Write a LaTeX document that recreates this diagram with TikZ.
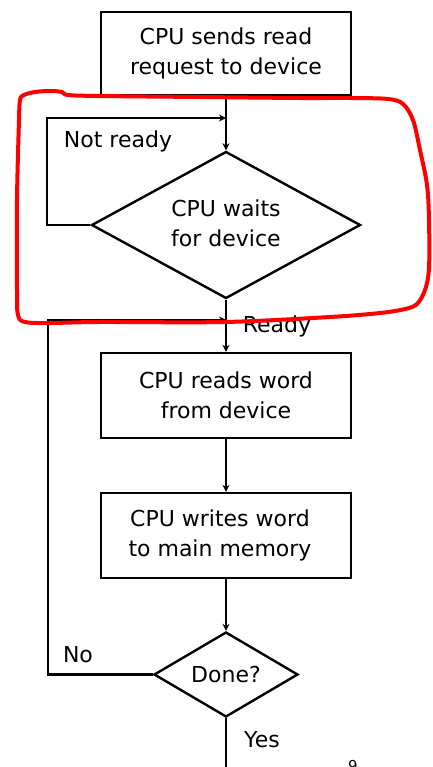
\documentclass[tikz,border=0pt]{standalone}
\usepackage{fontspec}
\setmainfont{DejaVu Sans}
\usetikzlibrary{shapes.geometric,arrows.meta}
\begin{document}
\begin{tikzpicture}[x=1pt,y=-1pt,
  every node/.style={font=\fontsize{22}{30}\selectfont},
  box/.style={draw,line width=2.4pt,minimum width=250pt,minimum height=85pt,align=center,inner sep=0pt},
  dec/.style={draw,diamond,line width=2.4pt,inner sep=0pt,align=center},
  arr/.style={line width=2.2pt,-{Stealth[length=7pt,width=7pt]}},
  lbl/.style={inner sep=0pt,anchor=base}
]
\useasboundingbox (0,0) rectangle (432,767);

\node[box,minimum height=83pt] (b1) at (226,53.5) {CPU sends read\\request to device};
\node[dec,minimum width=269pt,minimum height=147pt,aspect=1.83] (d1) at (226,225) {CPU waits\\for device\rule[-3pt]{0pt}{3pt}};
\node[box] (b2) at (226,395.5) {CPU reads word\\from device};
\node[box] (b3) at (226,535.5) {CPU writes word\hspace*{12pt}\\to main memory\hspace*{12pt}};
\node[dec,minimum width=144pt,minimum height=85pt,aspect=1.7] (d2) at (226,674.5) {Done?};

\coordinate (j1) at (226,118);
\coordinate (j2) at (226,320);
\coordinate (e) at (226,775);

\draw[arr] (b1) -- (d1);
\draw[arr] (d1.west) -- ++(-43,0) |- (j1);
\draw[arr] (d1) -- (b2);
\draw[arr] (b2) -- (b3);
\draw[arr] (b3) -- (d2);
\draw[arr] (d2.west) -- ++(-105,0) |- (j2);
\draw[arr] (d2) -- (e);

\node[lbl] (nr) at (118,148) {Not ready};
\node[lbl] (rd) at (277,332) {Ready};
\node[lbl] (no) at (78,662) {No};
\node[lbl] (yes) at (262,747) {Yes};
\node[inner sep=0pt,anchor=north,font=\fontsize{15}{15}\selectfont] (pg) at (353,760) {9};

\draw[red,line width=4pt] plot[smooth cycle,tension=0.55] coordinates {
 (25,322) (18,315) (17,290) (17,200) (19,120) (20,100) (24,95) (35,92) (50,91) (62,92) (68,95) (100,96) (200,97) (300,98) (350,98) (388,99) (403,104) (413,120) (420,150) (427,185) (429,220) (429,268) (425,290) (417,304) (405,309) (380,313) (330,317) (225,322) (100,322) (50,323)};
\end{tikzpicture}
\end{document}
